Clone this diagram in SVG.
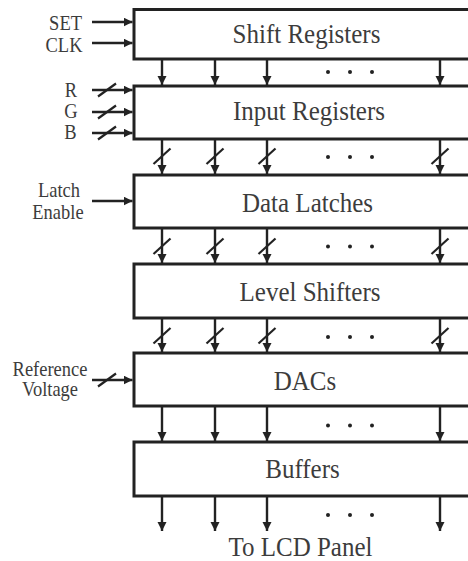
<svg xmlns="http://www.w3.org/2000/svg" width="468" height="561" viewBox="0 0 468 561">
<defs>
<marker id="ah" markerUnits="userSpaceOnUse" markerWidth="10" markerHeight="10" refX="9" refY="4.5" orient="auto"><path d="M0,0 L9,4.5 L0,9 Z" fill="#222"/></marker>
</defs>
<style>
.box{fill:#fff;stroke:#222;stroke-width:3}
.lbl{font-family:"Liberation Serif","Times New Roman",serif;font-size:25px;fill:#3c3c3c;text-anchor:middle}
.in{font-family:"Liberation Serif","Times New Roman",serif;font-size:18.5px;fill:#3c3c3c}
.w{stroke:#222;stroke-width:2.4;fill:none;marker-end:url(#ah)}
.sl{stroke:#222;stroke-width:2.2}
.dot{fill:#222}
</style>
<rect width="468" height="561" fill="#fff"/>

<g id="shift-registers">
<rect class="box" x="134" y="9.5" width="350" height="49.5"/>
<text class="lbl" transform="translate(306.5 43) scale(1 1.1)">Shift Registers</text>
</g>
<g id="input-registers">
<rect class="box" x="134" y="86" width="350" height="53"/>
<text class="lbl" transform="translate(309 120) scale(1 1.1)">Input Registers</text>
</g>
<g id="data-latches">
<rect class="box" x="134" y="175" width="350" height="53"/>
<text class="lbl" transform="translate(307.5 211.5) scale(1 1.1)">Data Latches</text>
</g>
<g id="level-shifters">
<rect class="box" x="134" y="264" width="350" height="54"/>
<text class="lbl" transform="translate(310 301) scale(1 1.1)">Level Shifters</text>
</g>
<g id="dacs">
<rect class="box" x="134" y="353" width="350" height="53"/>
<text class="lbl" transform="translate(305 390) scale(1 1.1)">DACs</text>
</g>
<g id="buffers">
<rect class="box" x="134" y="442" width="350" height="54"/>
<text class="lbl" transform="translate(302.5 477.5) scale(1 1.1)">Buffers</text>
</g>

<g id="input-labels">
<text class="in" text-anchor="end" transform="translate(82 29.5) scale(1 1.1)">SET</text>
<text class="in" text-anchor="end" transform="translate(82.5 51.5) scale(1 1.1)">CLK</text>
<text class="in" text-anchor="middle" transform="translate(71 96.5) scale(1 1.1)">R</text>
<text class="in" text-anchor="middle" transform="translate(71 118) scale(1 1.1)">G</text>
<text class="in" text-anchor="middle" transform="translate(70.5 139) scale(1 1.1)">B</text>
<text class="in" text-anchor="middle" transform="translate(59 197) scale(1 1.1)">Latch</text>
<text class="in" text-anchor="middle" transform="translate(58 219) scale(1 1.1)">Enable</text>
<text class="in" text-anchor="middle" transform="translate(50 375.5) scale(1 1.1)">Reference</text>
<text class="in" text-anchor="middle" transform="translate(50 396) scale(1 1.1)">Voltage</text>
</g>

<g id="output-label">
<text class="lbl" transform="translate(300.5 556) scale(1 1.1)">To LCD Panel</text>
</g>

<g id="connectors">
<!-- inputs -->
<line class="w" x1="92" y1="22" x2="132.5" y2="22"/>
<line class="w" x1="92" y1="43" x2="132.5" y2="43"/>
<line class="w" x1="92" y1="90" x2="132.5" y2="90"/>
<line class="w" x1="92" y1="112" x2="132.5" y2="112"/>
<line class="w" x1="92" y1="133" x2="132.5" y2="133"/>
<line class="w" x1="92" y1="201" x2="132.5" y2="201"/>
<line class="w" x1="92" y1="380" x2="132.5" y2="380"/>
<line class="sl" x1="98" y1="96.5" x2="116" y2="83.5"/>
<line class="sl" x1="98" y1="118.5" x2="116" y2="105.5"/>
<line class="sl" x1="98" y1="139.5" x2="116" y2="126.5"/>
<line class="sl" x1="98" y1="386.5" x2="116" y2="373.5"/>

<!-- gap 1 -->
<line class="w" x1="162" y1="60" x2="162" y2="85"/>
<line class="w" x1="215" y1="60" x2="215" y2="85"/>
<line class="w" x1="267" y1="60" x2="267" y2="85"/>
<line class="w" x1="440" y1="60" x2="440" y2="85"/>
<!-- gap 2 -->
<line class="w" x1="162" y1="140" x2="162" y2="174"/>
<line class="w" x1="215" y1="140" x2="215" y2="174"/>
<line class="w" x1="267" y1="140" x2="267" y2="174"/>
<line class="w" x1="440" y1="140" x2="440" y2="174"/>
<line class="sl" x1="153.5" y1="164" x2="170.5" y2="148.5"/>
<line class="sl" x1="206.5" y1="164" x2="223.5" y2="148.5"/>
<line class="sl" x1="258.5" y1="164" x2="275.5" y2="148.5"/>
<line class="sl" x1="431.5" y1="164" x2="448.5" y2="148.5"/>
<!-- gap 3 -->
<line class="w" x1="162" y1="229" x2="162" y2="263"/>
<line class="w" x1="215" y1="229" x2="215" y2="263"/>
<line class="w" x1="267" y1="229" x2="267" y2="263"/>
<line class="w" x1="440" y1="229" x2="440" y2="263"/>
<line class="sl" x1="153.5" y1="254" x2="170.5" y2="238.5"/>
<line class="sl" x1="206.5" y1="254" x2="223.5" y2="238.5"/>
<line class="sl" x1="258.5" y1="254" x2="275.5" y2="238.5"/>
<line class="sl" x1="431.5" y1="254" x2="448.5" y2="238.5"/>
<!-- gap 4 -->
<line class="w" x1="162" y1="319" x2="162" y2="352"/>
<line class="w" x1="215" y1="319" x2="215" y2="352"/>
<line class="w" x1="267" y1="319" x2="267" y2="352"/>
<line class="w" x1="440" y1="319" x2="440" y2="352"/>
<line class="sl" x1="153.5" y1="343.5" x2="170.5" y2="328"/>
<line class="sl" x1="206.5" y1="343.5" x2="223.5" y2="328"/>
<line class="sl" x1="258.5" y1="343.5" x2="275.5" y2="328"/>
<line class="sl" x1="431.5" y1="343.5" x2="448.5" y2="328"/>
<!-- gap 5 -->
<line class="w" x1="162" y1="407" x2="162" y2="441"/>
<line class="w" x1="215" y1="407" x2="215" y2="441"/>
<line class="w" x1="267" y1="407" x2="267" y2="441"/>
<line class="w" x1="440" y1="407" x2="440" y2="441"/>
<!-- outputs -->
<line class="w" x1="162" y1="497" x2="162" y2="531"/>
<line class="w" x1="215" y1="497" x2="215" y2="531"/>
<line class="w" x1="267" y1="497" x2="267" y2="531"/>
<line class="w" x1="440" y1="497" x2="440" y2="531"/>
</g>

<g id="ellipses" class="dot">
<circle cx="328" cy="72" r="2"/><circle cx="350" cy="72" r="2"/><circle cx="372" cy="72" r="2"/>
<circle cx="328" cy="157" r="2"/><circle cx="350" cy="157" r="2"/><circle cx="372" cy="157" r="2"/>
<circle cx="328" cy="246.5" r="2"/><circle cx="350" cy="246.5" r="2"/><circle cx="372" cy="246.5" r="2"/>
<circle cx="328" cy="337" r="2"/><circle cx="350" cy="337" r="2"/><circle cx="372" cy="337" r="2"/>
<circle cx="328" cy="425.5" r="2"/><circle cx="350" cy="425.5" r="2"/><circle cx="372" cy="425.5" r="2"/>
<circle cx="328" cy="515" r="2"/><circle cx="350" cy="515" r="2"/><circle cx="372" cy="515" r="2"/>
</g>
</svg>
